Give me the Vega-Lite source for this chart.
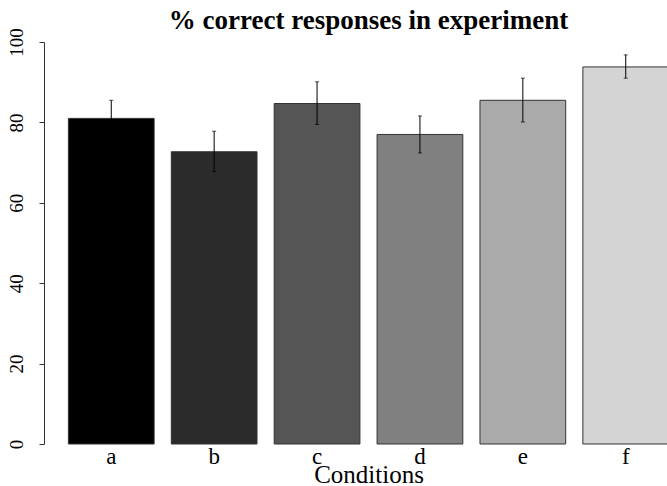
{
  "$schema": "https://vega.github.io/schema/vega-lite/v6.json",
  "autosize": "none",
  "padding": {"left": 44, "top": 42, "right": 0, "bottom": 42},
  "width": 649,
  "height": 402,
  "background": "white",
  "config": {
    "view": {"stroke": null},
    "font": "Liberation Serif"
  },
  "title": {
    "text": "% correct responses in experiment",
    "font": "Liberation Serif",
    "fontSize": 27,
    "fontWeight": "bold",
    "color": "black",
    "anchor": "middle",
    "baseline": "alphabetic",
    "offset": -28
  },
  "data": {
    "values": [
      {"cond": "a", "pct": 81.0, "lo": 76.5, "hi": 85.5},
      {"cond": "b", "pct": 72.7, "lo": 67.8, "hi": 77.8},
      {"cond": "c", "pct": 84.7, "lo": 79.5, "hi": 90.1},
      {"cond": "d", "pct": 77.0, "lo": 72.4, "hi": 81.6},
      {"cond": "e", "pct": 85.5, "lo": 80.1, "hi": 91.0},
      {"cond": "f", "pct": 93.8, "lo": 91.0, "hi": 96.8}
    ]
  },
  "encoding": {
    "x": {
      "field": "cond",
      "type": "nominal",
      "scale": {"paddingInner": 0.1667, "paddingOuter": 0.237},
      "axis": {
        "title": "Conditions",
        "labelAngle": 0,
        "labelFont": "Liberation Serif",
        "labelFontSize": 23,
        "labelColor": "black",
        "labelBaseline": "alphabetic",
        "labelPadding": 19,
        "ticks": false,
        "domain": false,
        "titleFont": "Liberation Serif",
        "titleFontSize": 25,
        "titleFontWeight": "normal",
        "titleColor": "black",
        "titleBaseline": "alphabetic",
        "titleY": 38,
        "titleX": 324.5
      }
    }
  },
  "layer": [
    {
      "mark": {"type": "bar", "stroke": "#333333", "strokeWidth": 1},
      "encoding": {
        "y": {
          "field": "pct",
          "type": "quantitative",
          "scale": {"domain": [0, 100], "nice": false},
          "axis": {
            "title": null,
            "values": [0, 20, 40, 60, 80, 100],
            "grid": false,
            "labelAngle": -90,
            "labelAlign": "center",
            "labelBaseline": "bottom",
            "labelFont": "Liberation Serif",
            "labelFontSize": 19,
            "labelColor": "black",
            "labelPadding": 13,
            "tickSize": 5,
            "tickColor": "#333333",
            "domainColor": "#333333"
          }
        },
        "fill": {
          "field": "cond",
          "type": "nominal",
          "scale": {"range": ["#000000", "#2b2b2b", "#555555", "#808080", "#aaaaaa", "#d4d4d4"]},
          "legend": null
        }
      }
    },
    {
      "mark": {"type": "rule", "color": "black", "strokeWidth": 1},
      "encoding": {
        "y": {"field": "lo", "type": "quantitative"},
        "y2": {"field": "hi"}
      }
    },
    {
      "mark": {"type": "tick", "color": "black", "thickness": 1, "size": 4},
      "encoding": {
        "y": {"field": "lo", "type": "quantitative"}
      }
    },
    {
      "mark": {"type": "tick", "color": "black", "thickness": 1, "size": 4},
      "encoding": {
        "y": {"field": "hi", "type": "quantitative"}
      }
    }
  ]
}
